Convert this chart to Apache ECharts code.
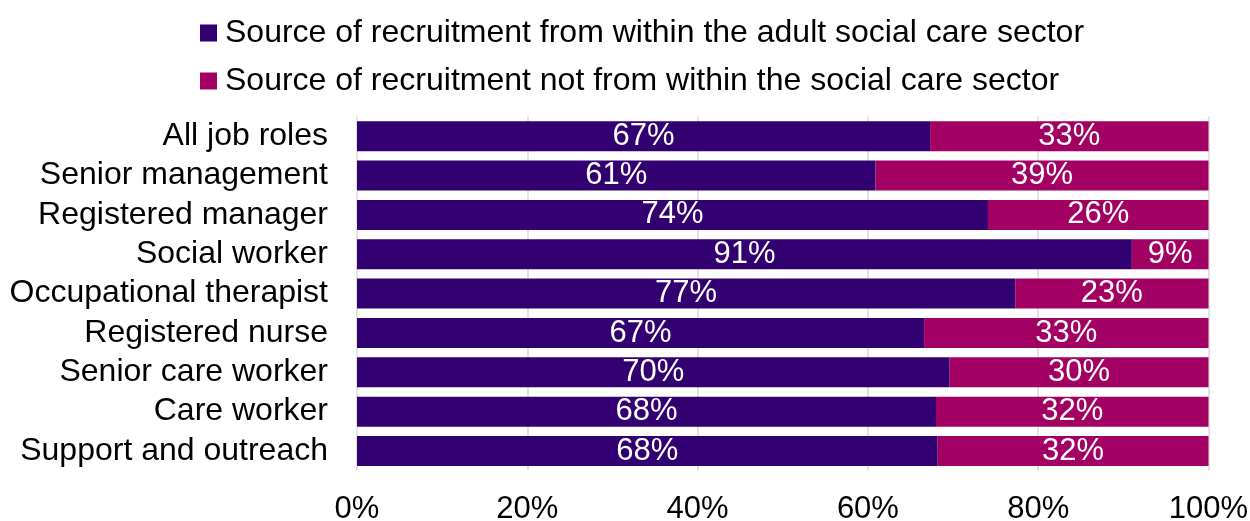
<!DOCTYPE html>
<html>
<head>
<meta charset="utf-8">
<script src="https://cdn.jsdelivr.net/npm/echarts@6/dist/echarts.min.js"></script>
<style>
html,body{margin:0;padding:0;background:#fff;}
#chart{width:1250px;height:521px;}
</style>
</head>
<body>
<div id="chart"></div>
<script>
var categories = ['All job roles','Senior management','Registered manager','Social worker','Occupational therapist','Registered nurse','Senior care worker','Care worker','Support and outreach'];
var seriesNames = ['Source of recruitment from within the adult social care sector','Source of recruitment not from within the social care sector'];
var withinSector = [67.3, 60.9, 74.1, 91.0, 77.3, 66.6, 69.6, 68.0, 68.2];
var notWithinSector = [32.7, 39.1, 25.9, 9.0, 22.7, 33.4, 30.4, 32.0, 31.8];
var xTicks = [0, 20, 40, 60, 80, 100];

var colors = ['#330072', '#A20062'];
var font = 'Liberation Sans, Arial, sans-serif';
var chart = echarts.init(document.getElementById('chart'));

function labelCfg() {
  return {
    show: true, position: 'inside', color: '#fff',
    fontFamily: font, fontSize: 31, padding: [3, 0, 0, 0],
    formatter: function (p) { return Math.round(p.value) + '%'; }
  };
}

chart.setOption({
  animation: false,
  color: colors,
  legend: {
    orient: 'vertical', left: 200, top: 17, padding: 0,
    itemWidth: 17, itemHeight: 17, itemGap: 16,
    icon: 'rect',
    textStyle: { fontFamily: font, fontSize: 32, color: '#000', lineHeight: 32, padding: [0,0,0,3] },
    data: seriesNames
  },
  grid: { left: 357, right: 41.5, top: 116.5, bottom: 50.3, containLabel: false, outerBoundsMode: 'none' },
  xAxis: {
    type: 'value', min: xTicks[0], max: xTicks[xTicks.length-1], interval: 20,
    axisLine: { show: false }, axisTick: { show: false },
    splitLine: { show: true, lineStyle: { color: '#d9d9d9', width: 1.5 } },
    axisLabel: { fontFamily: font, fontSize: 31, color: '#000', margin: 23,
      formatter: function (v) { return v + '%'; } }
  },
  yAxis: {
    type: 'category', data: categories, inverse: true,
    axisLine: { show: false }, axisTick: { show: false },
    axisLabel: { fontFamily: font, fontSize: 32, color: '#000', margin: 29, interval: 0, padding: [3, 0, 0, 0] }
  },
  series: [
    { name: seriesNames[0], type: 'bar', stack: 'a', data: withinSector, barWidth: 30,
      label: labelCfg() },
    { name: seriesNames[1], type: 'bar', stack: 'a', data: notWithinSector, barWidth: 30,
      label: labelCfg() }
  ]
});
</script>
</body>
</html>
